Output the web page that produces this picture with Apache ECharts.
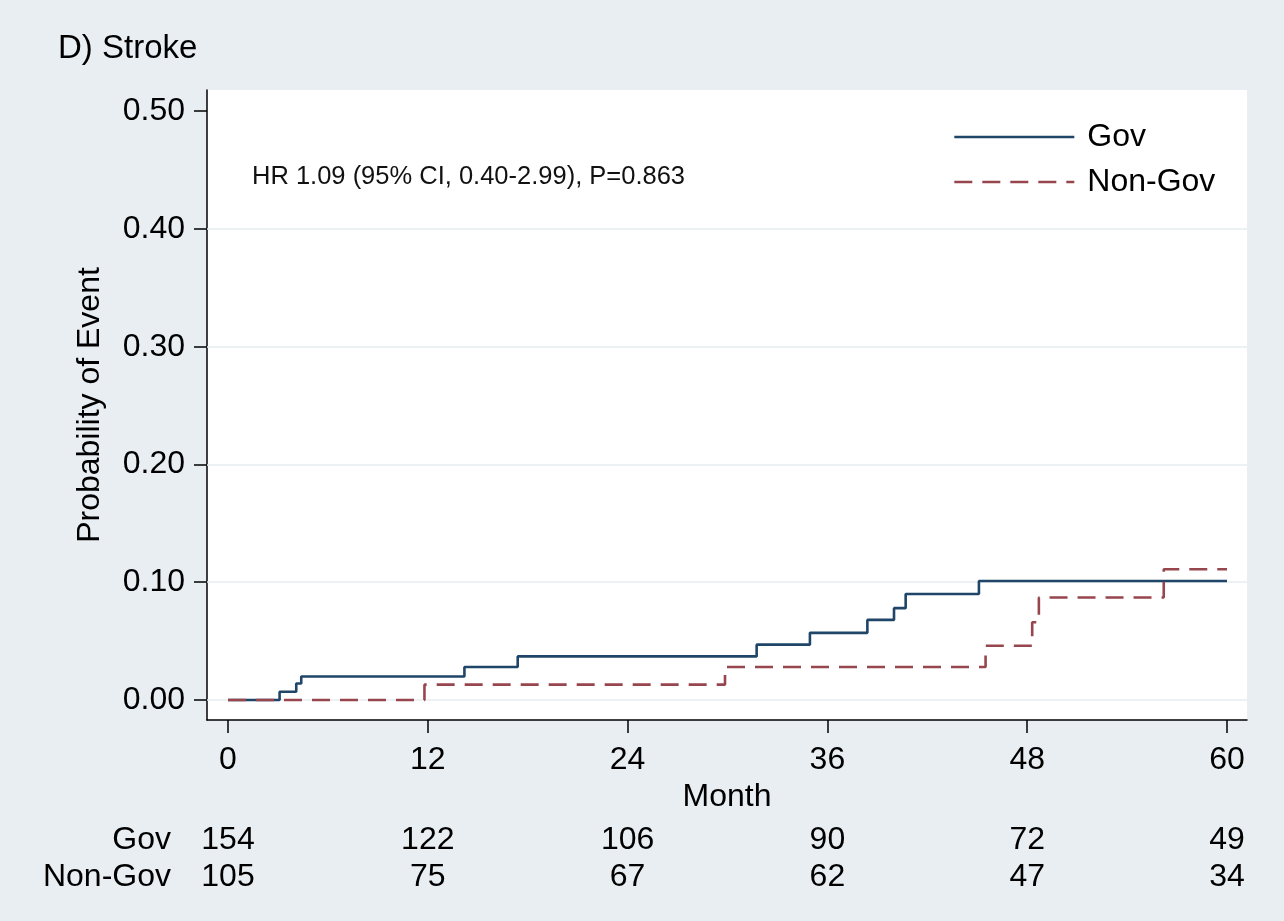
<!DOCTYPE html>
<html>
<head>
<meta charset="utf-8">
<script src="https://cdn.jsdelivr.net/npm/echarts@6/dist/echarts.min.js"></script>
<style>
  html, body { margin: 0; padding: 0; background: #e9eef2; }
  #chart { width: 1284px; height: 921px; }
</style>
</head>
<body>
<div id="chart"></div>
<script>
// Kaplan-Meier step points (month, cumulative probability)
const govMonths = [0, 3.1, 4.1, 4.4, 14.2, 17.4, 31.75, 34.95, 38.4, 40.0, 40.7, 45.1, 60];
const govProb = [0, 0.007, 0.014, 0.020, 0.028, 0.037, 0.047, 0.057, 0.068, 0.078, 0.090, 0.101, 0.101];
const nonGovMonths = [0, 11.8, 29.85, 45.5, 48.3, 48.7, 56.2, 60];
const nonGovProb = [0, 0.013, 0.028, 0.046, 0.066, 0.087, 0.111, 0.111];

// number at risk table
const riskMonths = [0, 12, 24, 36, 48, 60];
const govAtRisk = [154, 122, 106, 90, 72, 49];
const nonGovAtRisk = [105, 75, 67, 62, 47, 34];

const yTicks = [0, 0.1, 0.2, 0.3, 0.4, 0.5];
const yGrid = [0, 0.1, 0.2, 0.3, 0.4];

const FONT = 'Liberation Sans, Arial, sans-serif';

let myChart = echarts.init(document.getElementById('chart'));

function pairs(xs, ys) {
    return xs.map(function (x, i) { return [x, ys[i]]; });
}

// x range is a bit wider than 0-60 like Stata does
const xMin = -1.26, xMax = 61.2;

// extra x axis used as one row of the at-risk table
function riskAxis(counts, offset) {
    return {
        type: 'value',
        position: 'bottom',
        offset: offset,
        min: xMin,
        max: xMax,
        axisLine: { show: false },
        axisTick: { show: false },
        splitLine: { show: false },
        axisLabel: {
            customValues: riskMonths,
            margin: 0,
            verticalAlign: 'middle',
            fontSize: 32,
            color: '#000',
            fontFamily: FONT,
            formatter: function (v) {
                let i = riskMonths.indexOf(Math.round(v));
                return i >= 0 ? String(counts[i]) : '';
            }
        }
    };
}

function rowLabel(text, top) {
    return {
        text: text,
        right: 1108, top: top,
        textStyle: { fontSize: 32, fontWeight: 'normal', color: '#000', fontFamily: FONT }
    };
}

myChart.setOption({
    backgroundColor: '#e9eef2',
    animation: false,
    textStyle: { fontFamily: FONT },
    title: [
        {
            text: 'D) Stroke',
            left: 53, top: 27,
            textStyle: { fontSize: 33, fontWeight: 'normal', color: '#000', fontFamily: FONT }
        },
        {
            text: 'HR 1.09 (95% CI, 0.40-2.99), P=0.863',
            left: 247, top: 159,
            textStyle: { fontSize: 25.5, fontWeight: 'normal', color: '#111', fontFamily: FONT }
        },
        rowLabel('Gov', 819),
        rowLabel('Non-Gov', 856)
    ],
    legend: {
        orient: 'vertical',
        left: 948,
        top: 116,
        itemWidth: 120,
        itemHeight: 14,
        itemGap: 13,
        itemStyle: { opacity: 0 },
        lineStyle: { width: 2.6 },
        textStyle: { fontSize: 32, color: '#000', fontFamily: FONT, padding: [0, 0, 0, 8] },
        data: ['Gov', 'Non-Gov']
    },
    grid: {
        left: 207, right: 37, top: 90, bottom: 201,
        show: true,
        backgroundColor: '#ffffff',
        borderWidth: 0
    },
    xAxis: [
        {
            type: 'value',
            min: xMin,
            max: xMax,
            name: 'Month',
            nameLocation: 'middle',
            nameGap: 56,
            nameTextStyle: { fontSize: 32, color: '#000', fontFamily: FONT },
            axisLine: { show: true, onZero: false, lineStyle: { color: '#000', width: 1.5 } },
            axisTick: { show: true, customValues: riskMonths, length: 13, lineStyle: { color: '#000', width: 1.5 } },
            axisLabel: { customValues: riskMonths, margin: 24, fontSize: 32, color: '#000', fontFamily: FONT },
            splitLine: { show: false }
        },
        riskAxis(govAtRisk, 120),
        riskAxis(nonGovAtRisk, 157)
    ],
    yAxis: {
        type: 'value',
        min: -0.017,
        max: 0.518,
        name: 'Probability of Event',
        nameLocation: 'middle',
        nameGap: 101,
        nameTextStyle: { fontSize: 32, color: '#000', fontFamily: FONT },
        axisLine: { show: true, onZero: false, lineStyle: { color: '#000', width: 1.5 } },
        axisTick: { show: true, customValues: yTicks, length: 13, lineStyle: { color: '#000', width: 1.5 } },
        axisLabel: {
            customValues: yTicks, margin: 22, fontSize: 32, color: '#000', fontFamily: FONT,
            formatter: function (v) { return v.toFixed(2); }
        },
        splitLine: { show: false }
    },
    series: [
        {
            name: 'Gov',
            type: 'line',
            step: 'end',
            symbol: 'none',
            color: '#1f4568',
            lineStyle: { color: '#1f4568', width: 2.6 },
            data: pairs(govMonths, govProb),
            z: 3,
            markLine: {
                silent: true,
                symbol: 'none',
                label: { show: false },
                lineStyle: { color: '#e6edf1', width: 1.5, type: 'solid' },
                data: yGrid.map(function (v) { return { yAxis: v }; }),
                z: 1
            }
        },
        {
            name: 'Non-Gov',
            type: 'line',
            step: 'end',
            symbol: 'none',
            color: '#98464e',
            lineStyle: { color: '#98464e', width: 2.6, type: [18, 10] },
            data: pairs(nonGovMonths, nonGovProb),
            z: 4
        }
    ]
});
</script>
</body>
</html>
